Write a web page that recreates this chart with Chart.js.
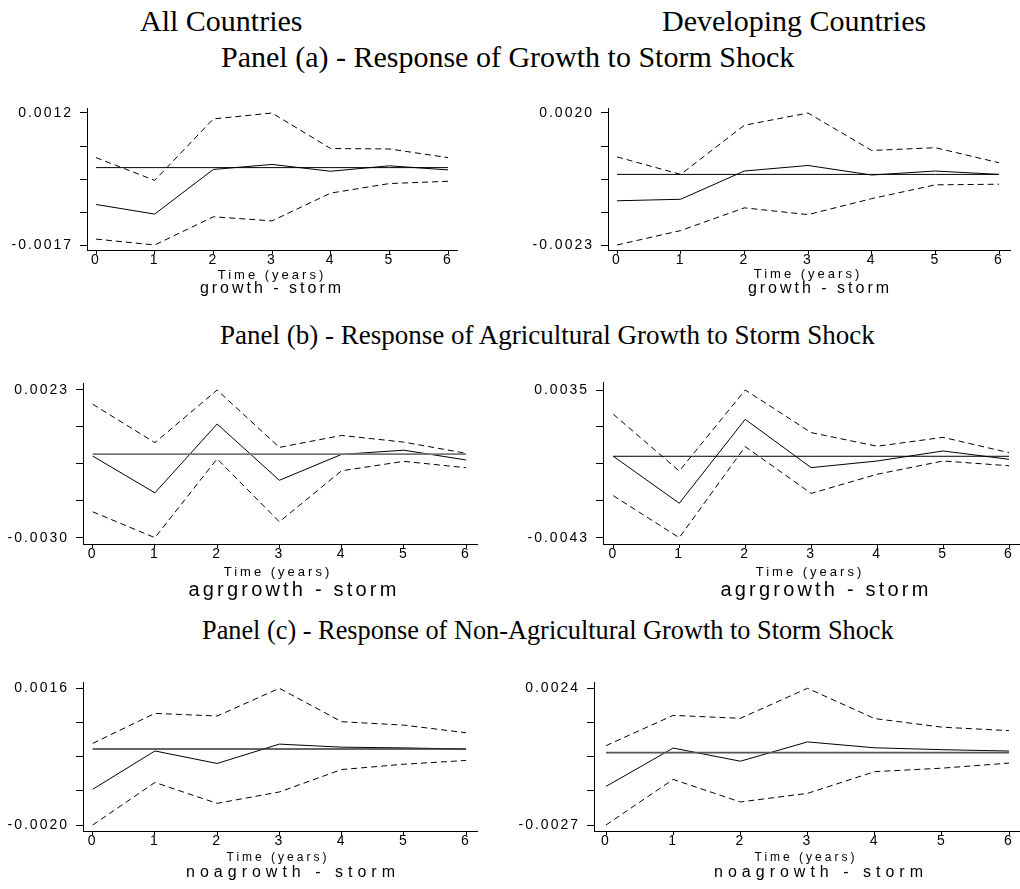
<!DOCTYPE html>
<html>
<head>
<meta charset="utf-8">
<script src="https://cdn.jsdelivr.net/npm/chart.js@4.4.0/dist/chart.umd.min.js"></script>
<style>
  body { margin:0; background:#fff; width:1020px; height:889px; position:relative; overflow:hidden; }
  .t { position:absolute; white-space:nowrap; color:#000; }
  canvas { position:absolute; }
</style>
</head>
<body>
<script>
// horizon (years after shock)
const years = [0, 1, 2, 3, 4, 5, 6];
const zeroLine = [0, 0, 0, 0, 0, 0, 0];

// (a) growth - storm, all countries
const growthAllIrf = [-0.00081, -0.00102, -0.00004, 0.00007, -0.00008, 0.00004, -0.00005];
const growthAllHi  = [0.00022, -0.00028, 0.00107, 0.00120, 0.00042, 0.00041, 0.00022];
const growthAllLo  = [-0.00157, -0.00170, -0.00108, -0.00117, -0.00056, -0.00035, -0.00030];
const growthAllTicks = [-0.0017, 0.0012];

// (a) growth - storm, developing
const growthDevIrf = [-0.00086, -0.00081, 0.00011, 0.00029, -0.00002, 0.00011, 0.00000];
const growthDevHi  = [0.00057, 0.00000, 0.00160, 0.00200, 0.00078, 0.00087, 0.00038];
const growthDevLo  = [-0.00230, -0.00183, -0.00109, -0.00131, -0.00079, -0.00034, -0.00032];
const growthDevTicks = [-0.0023, 0.0020];

// (b) agrgrowth - storm, all countries
const agrAllIrf = [-0.00007, -0.00139, 0.00108, -0.00094, -0.00001, 0.00014, -0.00021];
const agrAllHi  = [0.00179, 0.00041, 0.00230, 0.00024, 0.00067, 0.00043, 0.00003];
const agrAllLo  = [-0.00207, -0.00300, -0.00017, -0.00243, -0.00060, -0.00026, -0.00049];
const agrAllTicks = [-0.0030, 0.0023];

// (b) agrgrowth - storm, developing
const agrDevIrf = [0.00000, -0.00248, 0.00195, -0.00060, -0.00025, 0.00028, -0.00016];
const agrDevHi  = [0.00222, -0.00078, 0.00350, 0.00125, 0.00053, 0.00100, 0.00019];
const agrDevLo  = [-0.00208, -0.00430, 0.00051, -0.00196, -0.00095, -0.00025, -0.00050];
const agrDevTicks = [-0.0043, 0.0035];

// (c) noagrowth - storm, all countries
const noaAllIrf = [-0.00106, -0.00005, -0.00038, 0.00013, 0.00005, 0.00003, 0.00000];
const noaAllHi  = [0.00015, 0.00094, 0.00087, 0.00160, 0.00072, 0.00063, 0.00043];
const noaAllLo  = [-0.00200, -0.00088, -0.00143, -0.00113, -0.00054, -0.00040, -0.00030];
const noaAllTicks = [-0.0020, 0.0016];

// (c) noagrowth - storm, developing
const noaDevIrf = [-0.00126, 0.00017, -0.00032, 0.00040, 0.00018, 0.00011, 0.00006];
const noaDevHi  = [0.00026, 0.00139, 0.00128, 0.00240, 0.00127, 0.00095, 0.00082];
const noaDevLo  = [-0.00270, -0.00100, -0.00184, -0.00152, -0.00071, -0.00058, -0.00039];
const noaDevTicks = [-0.0027, 0.0024];

const SANS = '"Liberation Sans", Arial, sans-serif';
const SERIF = '"Liberation Serif", "Times New Roman", serif';

// box = axis lines [left, top, right, bottom]; tk = pixel of x=0, x=6, top tick, bottom tick
const panels = [
  { irf: growthAllIrf, hi: growthAllHi, lo: growthAllLo, ticks: growthAllTicks,
    box: [87, 108, 457, 250], tk: [96, 448, 113, 245], zero: '#000',
    sub: 'growth - storm', time: [272, 279, 13, 3], subPos: [272, 294, 16, 3] },
  { irf: growthDevIrf, hi: growthDevHi, lo: growthDevLo, ticks: growthDevTicks,
    box: [608, 108, 1010, 250], tk: [617, 999, 113, 245], zero: '#000',
    sub: 'growth - storm', time: [808, 278, 13, 3], subPos: [820, 294, 16, 3] },
  { irf: agrAllIrf, hi: agrAllHi, lo: agrAllLo, ticks: agrAllTicks,
    box: [83, 383, 477, 544], tk: [92.7, 466, 390, 537.7], zero: '#777',
    sub: 'agrgrowth - storm', time: [278, 576, 13, 3], subPos: [294, 596, 20, 3.2] },
  { irf: agrDevIrf, hi: agrDevHi, lo: agrDevLo, ticks: agrDevTicks,
    box: [603, 382, 1019, 544], tk: [613.3, 1009, 390, 537.7], zero: '#000',
    sub: 'agrgrowth - storm', time: [810, 576, 13, 3], subPos: [826, 596, 20, 3.2] },
  { irf: noaAllIrf, hi: noaAllHi, lo: noaAllLo, ticks: noaAllTicks,
    box: [83, 682, 477, 831], tk: [92.7, 466, 688.3, 825], zero: '#333',
    sub: 'noagrowth - storm', time: [278, 861, 12, 3], subPos: [293, 878, 16, 5] },
  { irf: noaDevIrf, hi: noaDevHi, lo: noaDevLo, ticks: noaDevTicks,
    box: [594, 682, 1019, 831], tk: [606, 1009, 688.3, 825], zero: '#555',
    sub: 'noagrowth - storm', time: [806, 861, 12, 3], subPos: [821, 878, 16, 5] }
];

function addText(txt, x, base, size, family, spacing, center) {
  const d = document.createElement('div');
  d.className = 't';
  d.textContent = txt;
  const asc = family === SERIF ? 0.8375 : 0.8465;
  d.style.fontFamily = family;
  d.style.fontSize = size + 'px';
  d.style.lineHeight = size + 'px';
  d.style.letterSpacing = spacing + 'px';
  d.style.top = (base - asc * size) + 'px';
  d.style.left = x + 'px';
  if (center) d.style.transform = 'translateX(-50%)';
  document.body.appendChild(d);
}

addText('All Countries', 140, 31, 30, SERIF, 0, false);
addText('Developing Countries', 662, 31, 30, SERIF, 0, false);
addText('Panel (a) - Response of Growth to Storm Shock', 221, 67, 30, SERIF, 0, false);
addText('Panel (b) - Response of Agricultural Growth to Storm Shock', 220, 345, 27, SERIF, 0, false);
addText('Panel (c) - Response of Non-Agricultural Growth to Storm Shock', 202, 640, 26.3, SERIF, 0, false);

const spacingPlugin = { id: 'spacing', beforeDraw(chart) { chart.ctx.letterSpacing = '2px'; } };

function makeChart(p) {
  const PADL = 80, PADT = 22, PADR = 12, PADB = 24;
  const [L, T, R, B] = p.box;
  const [x0px, x6px, yTopPx, yBotPx] = p.tk;
  const [yLo, yHi] = p.ticks;
  const ySpan = yHi - yLo;
  const vppY = ySpan / (yBotPx - yTopPx);
  const vppX = 6 / (x6px - x0px);

  const c = document.createElement('canvas');
  c.width = R - L + PADL + PADR;
  c.height = B - T + PADT + PADB;
  c.style.left = (L - PADL) + 'px';
  c.style.top = (T - PADT) + 'px';
  document.body.appendChild(c);

  const pts = arr => years.map((x, i) => ({ x: x, y: arr[i] }));
  const line = (arr, color, dash, w) => ({
    data: pts(arr), borderColor: color, borderWidth: w, borderDash: dash,
    pointRadius: 0, tension: 0, fill: false
  });

  new Chart(c, {
    type: 'line',
    data: { datasets: [
      line(zeroLine, p.zero, [], p.zero === '#000' ? 1 : 1.6),
      line(p.irf, '#000', [], 1),
      line(p.hi, '#000', [6, 4], 1),
      line(p.lo, '#000', [6, 4], 1)
    ]},
    options: {
      responsive: false, animation: false, devicePixelRatio: 1,
      layout: { padding: { left: 0, top: PADT, right: PADR, bottom: 0 } },
      plugins: { legend: { display: false }, tooltip: { enabled: false } },
      scales: {
        x: {
          type: 'linear',
          min: -(x0px - L) * vppX, max: 6 + (R - x6px) * vppX,
          afterBuildTicks: s => { s.ticks = years.map(v => ({ value: v })); },
          afterFit: s => { s.height = PADB; },
          grid: { drawOnChartArea: false, drawTicks: true, tickLength: 4, tickColor: '#000' },
          border: { display: true, color: '#000', width: 1 },
          ticks: { font: { family: SANS, size: 14 }, color: '#000', padding: -2,
                   maxRotation: 0, autoSkip: false, callback: v => String(v) }
        },
        y: {
          min: yLo - (B - yBotPx) * vppY, max: yHi + (yTopPx - T) * vppY,
          afterBuildTicks: s => { s.ticks = [0, 1, 2, 3, 4].map(i => ({ value: yLo + i * ySpan / 4 })); },
          afterFit: s => { s.width = PADL; },
          grid: { drawOnChartArea: false, drawTicks: true, tickLength: 7, tickColor: '#000' },
          border: { display: true, color: '#000', width: 1 },
          ticks: { font: { family: SANS, size: 14 }, color: '#000', padding: 7, autoSkip: false,
                   callback: (v, i) => (i === 0 || i === 4) ? v.toFixed(4) : '' }
        }
      }
    },
    plugins: [spacingPlugin]
  });

  addText('Time (years)', p.time[0], p.time[1], p.time[2], SANS, p.time[3], true);
  addText(p.sub, p.subPos[0], p.subPos[1], p.subPos[2], SANS, p.subPos[3], true);
}

panels.forEach(makeChart);
</script>
</body>
</html>
